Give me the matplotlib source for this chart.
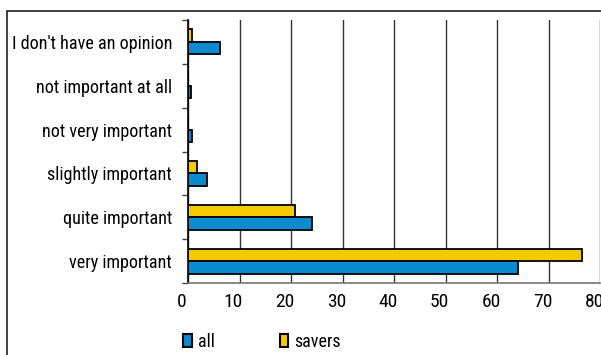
import matplotlib
matplotlib.use("Agg")
import matplotlib.pyplot as plt
import matplotlib.transforms as mtransforms
from matplotlib.patches import Patch, Rectangle
import numpy as np

plt.rcParams['font.family'] = ['Roboto Condensed', 'Archivo Narrow', 'DejaVu Sans']

categories = ["I don't have an opinion", "not important at all", "not very important",
              "slightly important", "quite important", "very important"]
all_values = [6.3, 0.5, 0.8, 3.7, 24.1, 64.1]
savers_values = [0.8, 0.0, 0.0, 1.7, 20.7, 76.5]
series_names = ["all", "savers"]
x_ticks = [0, 10, 20, 30, 40, 50, 60, 70, 80]

blue = "#0a8bd0"
yellow = "#f5cb00"

fig = plt.figure(figsize=(6.01, 3.55), dpi=100)
ax = fig.add_axes([188/601, 1 - 283/355, 412/601, 263/355])

n = len(categories)
ypos = np.arange(n)[::-1]  # first category at the top
h = 0.285
ax.barh(ypos + h/2, savers_values, height=h, color=yellow, edgecolor="black", linewidth=1.3, zorder=3)
ax.barh(ypos - h/2, all_values, height=h, color=blue, edgecolor="black", linewidth=1.3, zorder=3)

ax.set_xlim(0, 80)
ax.set_ylim(-0.5, n - 0.5)
ax.set_xticks(x_ticks)
ax.set_xticklabels([str(t) for t in x_ticks], fontsize=14)
ax.set_yticks(ypos)
ax.set_yticklabels(categories, fontsize=13.1)
ax.set_yticks(np.arange(-0.5, n), minor=True)
ax.tick_params(axis='y', which='major', length=0, pad=11.5)
ax.tick_params(axis='y', which='minor', length=4, width=1, color='#444444', direction='out')
ax.tick_params(axis='x', which='major', length=0, pad=7)

shift = mtransforms.ScaledTranslation(-6/100, 0, fig.dpi_scale_trans)
for lbl in ax.get_xticklabels():
    lbl.set_transform(lbl.get_transform() + shift)

ax.grid(axis='x', color='#333333', linewidth=1, zorder=0)
for side in ('top', 'right'):
    ax.spines[side].set_visible(False)
ax.spines['left'].set_color('black')
ax.spines['left'].set_linewidth(1.2)
ax.spines['bottom'].set_color('#777777')
ax.spines['bottom'].set_linewidth(1.2)

# outer frame
fig.patches.append(Rectangle((7/601, -0.05), 1.1, 1 - 11/355 + 0.05, transform=fig.transFigure,
                             fill=False, edgecolor='#222222', linewidth=1.2))

handles = [Patch(facecolor=blue, edgecolor='black', linewidth=1.5),
           Patch(facecolor=yellow, edgecolor='black', linewidth=1.5)]
fig.legend(handles, series_names, loc='center left', bbox_to_anchor=(178/601, 1 - 342/355),
           ncol=2, frameon=False, fontsize=13, handlelength=0.45, handleheight=0.75,
           handletextpad=0.35, columnspacing=3.6, borderaxespad=0, borderpad=0.3)

fig.savefig("out.png", dpi=100)
